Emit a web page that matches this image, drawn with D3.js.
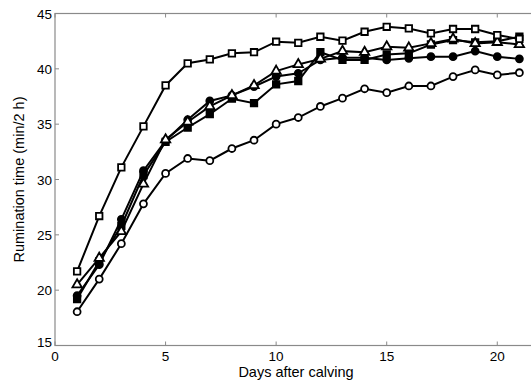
<!DOCTYPE html>
<html><head><meta charset="utf-8">
<script src="https://cdn.jsdelivr.net/npm/d3@7"></script>
<style>body{margin:0;background:#fff;}svg{display:block;}</style>
</head><body>
<svg id="c" width="531" height="381"></svg>
<script>
const days = d3.range(1, 22);
const openSquare   = [21.7,26.7,31.1,34.8,38.5,40.5,40.85,41.4,41.5,42.45,42.35,42.9,42.55,43.35,43.8,43.65,43.2,43.6,43.6,43.05,42.7];
const filledSquare = [19.2,22.6,25.8,30.4,33.4,34.7,35.9,37.3,36.9,38.6,38.9,41.5,40.8,40.8,41.3,41.4,42.2,42.6,42.4,42.5,42.9];
const openTriangle = [20.5,22.9,25.3,29.6,33.6,35.2,36.6,37.6,38.5,39.8,40.4,40.9,41.6,41.5,42.0,41.9,42.3,42.7,42.3,42.4,42.2];
const filledCircle = [19.5,22.3,26.4,30.8,33.5,35.4,37.1,37.6,38.4,39.3,39.6,40.8,41.0,41.0,40.8,40.95,41.1,41.1,41.6,41.1,40.9];
const openCircle   = [18.05,21.0,24.2,27.8,30.55,31.9,31.7,32.8,33.55,35.0,35.6,36.6,37.35,38.2,37.85,38.45,38.45,39.3,39.9,39.45,39.65];
const xTicks = [0,5,10,15,20];
const yTicks = [15,20,25,30,35,40,45];
const xLabel = "Days after calving";
const yLabel = "Rumination time (min/2 h)";

const series = [
  {v: openCircle,   m: "circle",   fill: "#fff"},
  {v: filledCircle, m: "circle",   fill: "#000"},
  {v: filledSquare, m: "square",   fill: "#000"},
  {v: openTriangle, m: "triangle", fill: "#fff"},
  {v: openSquare,   m: "square",   fill: "#fff"}
];

const svg = d3.select("#c");
const x = d3.scaleLinear().domain([0, 22]).range([55, 541.5]);
const y = d3.scaleLinear().domain([15, 45]).range([345.5, 13.5]);
const axisCol = "#8a8a8a";
const L = x(0), R = x(22), T = y(45), B = y(15);

// box
svg.append("rect").attr("x", L).attr("y", T).attr("width", R - L).attr("height", B - T)
  .attr("fill", "none").attr("stroke", axisCol).attr("stroke-width", 1.2);

// ticks inward
const tickLen = 4;
const g = svg.append("g").attr("stroke", axisCol).attr("stroke-width", 1);
xTicks.forEach(t => {
  g.append("line").attr("x1", x(t)).attr("x2", x(t)).attr("y1", B).attr("y2", B - tickLen);
  g.append("line").attr("x1", x(t)).attr("x2", x(t)).attr("y1", T).attr("y2", T + tickLen);
});
yTicks.forEach(t => {
  g.append("line").attr("x1", L).attr("x2", L + tickLen).attr("y1", y(t)).attr("y2", y(t));
});

const font = "Liberation Sans, Arial, Helvetica, sans-serif";
svg.append("g").selectAll("text").data(xTicks).join("text")
  .attr("x", d => x(d)).attr("y", 361).attr("text-anchor", "middle")
  .attr("font-family", font).attr("font-size", 13.5).attr("fill", "#000").text(d => d);
svg.append("g").selectAll("text").data(yTicks).join("text")
  .attr("x", 52).attr("y", d => y(d) + (d === 15 ? 1 : 5)).attr("text-anchor", "end")
  .attr("font-family", font).attr("font-size", 13.5).attr("fill", "#000").text(d => d);

svg.append("text").attr("x", 296).attr("y", 377).attr("text-anchor", "middle")
  .attr("font-family", font).attr("font-size", 14.5).attr("fill", "#000").text(xLabel);
svg.append("text").attr("transform", `translate(24,${(T + B) / 2}) rotate(-90)`)
  .attr("text-anchor", "middle").attr("font-family", font).attr("font-size", 14.5)
  .attr("fill", "#000").text(yLabel);

const line = d3.line().x((d, i) => x(days[i])).y(d => y(d));
const plot = svg.append("g");
series.forEach(s => {
  plot.append("path").datum(s.v).attr("d", line).attr("fill", "none")
    .attr("stroke", "#000").attr("stroke-width", 2);
});
const sym = {circle: d3.symbolCircle, square: d3.symbolSquare, triangle: d3.symbolTriangle};
const size = {circle: 38, square: 42, triangle: 38};
series.forEach(s => {
  plot.append("g").selectAll("path").data(s.v).join("path")
    .attr("transform", (d, i) => `translate(${x(days[i])},${y(d)})`)
    .attr("d", d3.symbol().type(sym[s.m]).size(size[s.m]))
    .attr("fill", s.fill).attr("stroke", "#000").attr("stroke-width", 1.8);
});
</script>
</body></html>
